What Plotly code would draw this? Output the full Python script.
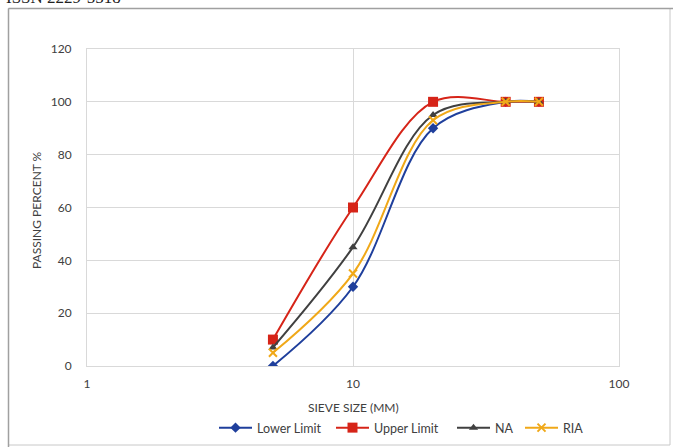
import plotly.graph_objects as go

# Sieve sizes (mm) and passing percentages
sieve_mm = [5, 10, 20, 37.5, 50]
lower_limit = [0, 30, 90, 100, 100]
upper_limit = [10, 60, 100, 100, 100]
na = [7, 45, 95, 100, 100]
ria = [5, 35, 93, 100, 100]

y_ticks = [0, 20, 40, 60, 80, 100, 120]
x_ticks = [1, 10, 100]

W, H = 673, 447
L, R, T, B = 87, 54, 49, 81

pw = W - L - R
ph = H - T - B


def px_x(p):
    return (p - L) / pw


def px_y(p):
    return (H - B - p) / ph


# name, values, colour, marker, marker size, legend id, legend left edge (px)
series = [
    ("Lower Limit", lower_limit, "#1f3f9c", "diamond", 8, "legend", 214),
    ("Upper Limit", upper_limit, "#d62418", "square", 10, "legend2", 331),
    ("NA", na, "#404040", "triangle-up", 8, "legend3", 452),
    ("RIA", ria, "#f0a818", "x-thin-open", 8, "legend4", 520),
]

fig = go.Figure()
legend_layouts = {}
for name, vals, color, sym, size, leg, lx in series:
    fig.add_trace(go.Scatter(
        x=sieve_mm, y=vals, name=name, mode="lines+markers", legend=leg,
        line=dict(color=color, width=2, shape="spline", smoothing=1.0),
        marker=dict(symbol=sym, size=size, color=color,
                    line=dict(color=color, width=2 if sym.startswith("x") else 0)),
    ))
    legend_layouts[leg] = dict(
        orientation="h", x=px_x(lx), xanchor="left", y=px_y(428),
        yanchor="middle", itemwidth=33, bgcolor="rgba(0,0,0,0)",
        font=dict(family="Lato", size=12.5, color="#404040"),
    )

# outer page frame
fig.add_shape(type="rect", xref="paper", yref="paper",
              x0=px_x(8.5), x1=px_x(670), y0=px_y(8.5), y1=px_y(445),
              line=dict(color="#c8c8c8", width=1), layer="below")
fig.add_shape(type="line", xref="paper", yref="paper",
              x0=px_x(8.5), x1=px_x(673), y0=px_y(8.5), y1=px_y(8.5),
              line=dict(color="#a0a0a0", width=1.5))
fig.add_shape(type="line", xref="paper", yref="paper",
              x0=px_x(8.5), x1=px_x(8.5), y0=px_y(8.5), y1=px_y(447),
              line=dict(color="#a0a0a0", width=1.5))

# running page header, cut by the top of the page
fig.add_annotation(text="ISSN 2229-5518", xref="paper", yref="paper",
                   x=px_x(4), y=px_y(9), xanchor="left", yanchor="bottom",
                   showarrow=False,
                   font=dict(family="Liberation Serif", size=17, color="#222222"))

# axis titles placed as annotations so they do not move the plot area
fig.add_annotation(text="SIEVE SIZE (MM)", xref="paper", yref="paper",
                   x=px_x(353), y=px_y(407), xanchor="center", yanchor="middle",
                   showarrow=False, font=dict(family="Lato", size=12, color="#404040"))
fig.add_annotation(text="PASSING PERCENT %", xref="paper", yref="paper",
                   x=px_x(37), y=px_y(210), xanchor="center", yanchor="middle",
                   textangle=-90, showarrow=False,
                   font=dict(family="Lato", size=12, color="#404040"))

fig.update_layout(
    width=W, height=H,
    margin=dict(l=L, r=R, t=T, b=B, autoexpand=False),
    paper_bgcolor="white", plot_bgcolor="white",
    showlegend=True,
    font=dict(family="Lato", color="#404040"),
    **legend_layouts,
)
fig.update_xaxes(type="log", range=[0, 2], tickvals=x_ticks,
                 ticktext=[str(v) for v in x_ticks],
                 showgrid=True, gridcolor="#d9d9d9", gridwidth=1,
                 showline=True, linecolor="#d9d9d9", mirror=True,
                 zeroline=False, ticks="", ticklabelstandoff=7,
                 tickfont=dict(family="Lato", size=12, color="#404040"),
                 automargin=False)
fig.update_yaxes(range=[0, 120], tickvals=y_ticks,
                 showgrid=True, gridcolor="#d9d9d9", gridwidth=1,
                 showline=True, linecolor="#d9d9d9", mirror=True,
                 zeroline=False, ticks="", ticklabelstandoff=12,
                 tickfont=dict(family="Lato", size=12, color="#404040"),
                 automargin=False)

fig.write_html("out.html")
